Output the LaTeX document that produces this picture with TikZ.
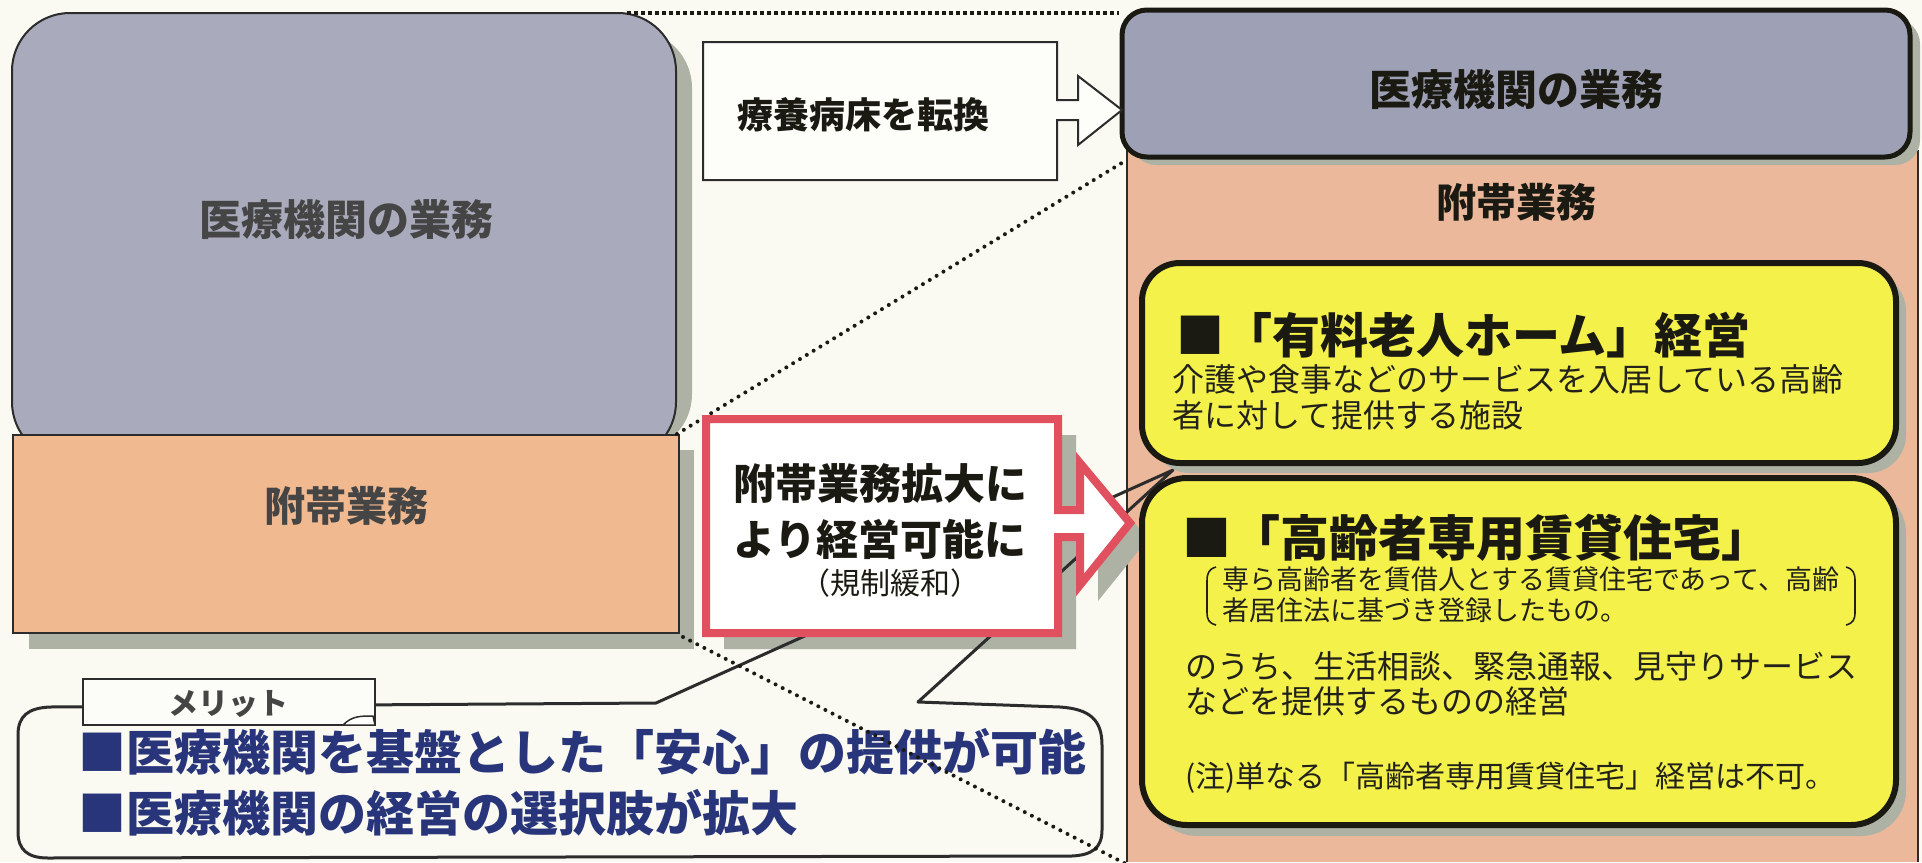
\documentclass[tikz,border=0pt]{standalone}
\usepackage{fontspec}
\newfontfamily\jp{Noto Sans CJK JP}
\newcommand\fsz[1]{\fontsize{#1pt}{#1pt}\selectfont}
\definecolor{bg}{HTML}{FAFAF2}
\definecolor{boxgrey}{HTML}{A9ABBC}
\definecolor{boxgreyR}{HTML}{9EA0B5}
\definecolor{peach}{HTML}{F1B98F}
\definecolor{peachR}{HTML}{ECB89B}
\definecolor{shadowc}{HTML}{ADB2A5}
\definecolor{yel}{HTML}{F4F14B}
\definecolor{redb}{HTML}{E0505E}
\definecolor{navy}{HTML}{28357A}
\definecolor{ink}{HTML}{1A1A12}
\definecolor{edge}{HTML}{2C2C2C}
\definecolor{greytxt}{HTML}{454545}
\definecolor{ytxt}{HTML}{22221A}
\tikzset{
  dotline/.style={line width=4pt, line cap=round, dash pattern=on 0pt off 8pt, draw=ink},
  sqdot/.style={line width=4pt, dash pattern=on 4pt off 3pt, draw=ink},
  ybox/.style={line width=6pt, draw=ink, fill=yel},
  bubble/.style={line width=3pt, draw=edge, line join=round},
  bold/.style={font=\jp\bfseries\fsz{#1}},
  reg/.style={font=\jp\fsz{#1}},
}
\begin{document}
\begin{tikzpicture}[x=1pt,y=-1pt, every node/.style={inner sep=0pt, outer sep=0pt}]
\useasboundingbox (0,0) rectangle (1922,862);
\fill[bg] (0,0) rectangle (1922,862);

% ---------- left boxes
\fill[shadowc, rounded corners=58pt] (28,30) rectangle (692,452);
\draw[fill=boxgrey, line width=2pt, draw=edge, rounded corners=58pt] (12,13) rectangle (676,460);
\fill[shadowc] (29,450) rectangle (694,649);
\draw[fill=peach, line width=2pt, draw=edge] (13,435) rectangle (679,633);

% ---------- right panel
\fill[peachR] (1127,150) rectangle (1918,862);
\draw[line width=1.5pt, draw=edge] (1127,150) -- (1127,862);
\draw[line width=1.5pt, draw=edge] (1918,150) -- (1918,862);
\fill[shadowc, rounded corners=25pt] (1131,19) rectangle (1920,165);
\draw[fill=boxgreyR, line width=5pt, draw=ink, rounded corners=25pt] (1122,10) rectangle (1910,157);

% ---------- dotted zoom lines (upper)
\coordinate (d1a) at (627,13);
\coordinate (d1b) at (1119,13);
\coordinate (d2a) at (677,434);
\coordinate (d2b) at (1125,161);
\draw[sqdot] (d1a) -- (d1b);
\draw[dotline] (d2a) -- (d2b);

% ---------- red arrow shadow
\begin{scope}[shift={(18,16)}]
\fill[shadowc] (706,419) -- (1058,419) -- (1058,510) -- (1080,510) -- (1080,463) -- (1130,523)
  -- (1080,585) -- (1080,537) -- (1058,537) -- (1058,633) -- (706,633) -- cycle;
\end{scope}

% ---------- speech bubble with tail
\coordinate (tailtip) at (1173,470);
\draw[bubble] (656,703) -- (tailtip) -- (918,702) -- (1060,707)
  .. controls (1090,709) and (1102,720) .. (1102,745) -- (1102,830)
  .. controls (1102,848) and (1092,855) .. (1072,856) -- (48,858)
  .. controls (28,858) and (18,850) .. (18,832) -- (18,735)
  .. controls (18,716) and (28,708) .. (50,707) -- cycle;

% ---------- red arrow box
\draw[line width=8pt, draw=redb, fill=white, line join=miter]
  (706,419) -- (1058,419) -- (1058,510) -- (1080,510) -- (1080,463) -- (1130,523)
  -- (1080,585) -- (1080,537) -- (1058,537) -- (1058,633) -- (706,633) -- cycle;

% ---------- yellow boxes
\fill[shadowc, rounded corners=38pt] (1152,273) rectangle (1906,473);
\draw[ybox, rounded corners=38pt] (1142,263) rectangle (1896,463);
\fill[shadowc, rounded corners=45pt] (1152,488) rectangle (1906,836);
\draw[ybox, rounded corners=45pt] (1142,478) rectangle (1896,825);

% brackets
\draw[line width=1.6pt, draw=ytxt] (1216,567) .. controls (1209,569) and (1207,573) .. (1207,581)
  -- (1207,612) .. controls (1207,620) and (1209,623) .. (1216,625);
\draw[line width=1.6pt, draw=ytxt] (1846,567) .. controls (1853,569) and (1855,573) .. (1855,581)
  -- (1855,612) .. controls (1855,620) and (1853,623) .. (1846,625);

% ---------- conversion arrow
\draw[line width=2pt, draw=edge, fill=white!60!bg, line join=miter]
  (703,42) -- (1057,42) -- (1057,100) -- (1078,100) -- (1078,76) -- (1122,110)
  -- (1078,145) -- (1078,120) -- (1057,120) -- (1057,180) -- (703,180) -- cycle;

% ---------- merit tab
\draw[fill=white!50!bg, line width=2pt, draw=edge] (83,679) rectangle (375,725);
\draw[line width=1.5pt, draw=edge, fill=white!80!bg] (343,725) .. controls (352,716) and (360,716) .. (373,716) -- (375,725) -- cycle;

% ---------- texts
\node[bold=42, text=greytxt] (lgtxt) at (346,220) {医療機関の業務};
\node[bold=41, text=greytxt] (lotxt) at (346,506) {附帯業務};
\node[bold=36, text=ink] (convtxt) at (863,115) {療養病床を転換};
\node[bold=42, text=ink] (rgtxt) at (1516,90) {医療機関の業務};
\node[bold=40, text=ink] (rotxt) at (1516,202) {附帯業務};
\node[bold=42, text=ink] (red1) at (880,484) {附帯業務拡大に};
\node[bold=42, text=ink] (red2) at (880,539) {より経営可能に};
\node[reg=30, text=ink] (red3) at (890,583) {（規制緩和）};

\node[bold=48, text=ink, anchor=west] (y1t) at (1176,335) {■「有料老人ホーム」経営};
\node[reg=32, text=ytxt, anchor=west] (y1a) at (1172,379) {介護や食事などのサービスを入居している高齢};
\node[reg=32, text=ytxt, anchor=west] (y1b) at (1172,415) {者に対して提供する施設};

\node[bold=49, text=ink, anchor=west] (y2t) at (1182,538) {■「高齢者専用賃貸住宅」};
\node[reg=27, text=ytxt, anchor=west] (y2a) at (1222,579) {専ら高齢者を賃借人とする賃貸住宅であって、高齢};
\node[reg=27, text=ytxt, anchor=west] (y2b) at (1222,610) {者居住法に基づき登録したもの。};
\node[reg=32, text=ytxt, anchor=west] (y2c) at (1185,666) {のうち、生活相談、緊急通報、見守りサービス};
\node[reg=32, text=ytxt, anchor=west] (y2d) at (1185,701) {などを提供するものの経営};
\node[reg=30, text=ytxt, anchor=west] (y2e) at (1185,778) {(注)単なる「高齢者専用賃貸住宅」経営は不可。};

\node[bold=30, text=greytxt] (tabtxt) at (228,704) {メリット};
\node[bold=48, text=navy, anchor=west] (m1) at (78,752) {■医療機関を基盤とした「安心」の提供が可能};
\node[bold=48, text=navy, anchor=west] (m2) at (78,813) {■医療機関の経営の選択肢が拡大};

% ---------- dotted zoom line (lower), on top
\coordinate (d3a) at (683,637);
\coordinate (d3b) at (1130,866);
\draw[dotline] (d3a) -- (d3b);
\end{tikzpicture}
\end{document}
